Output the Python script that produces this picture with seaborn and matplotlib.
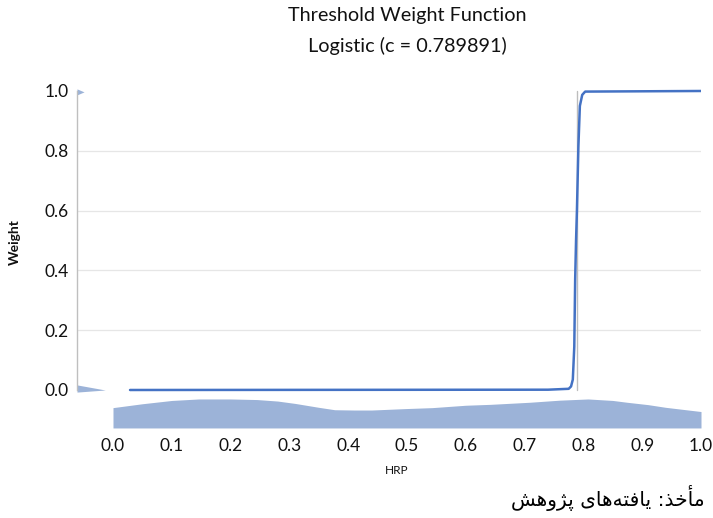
import matplotlib
matplotlib.use("Agg")
import matplotlib.pyplot as plt
import matplotlib.transforms as mtransforms
import seaborn as sns
import pandas as pd

# ---- data ----
hrp_curve = [0.029, 0.74, 0.775, 0.779, 0.782, 0.7845, 0.786, 0.7875, 0.789,
             0.7915, 0.794, 0.798, 0.803, 1.0]
weight_curve = [0.0, 0.001, 0.004, 0.012, 0.035, 0.145, 0.37, 0.5, 0.6,
                0.815, 0.95, 0.987, 0.998, 1.0]
threshold_c = 0.789891

hrp_grid = [0.0, 0.05, 0.1, 0.146, 0.2, 0.245, 0.28, 0.31, 0.35, 0.377, 0.41,
            0.44, 0.5, 0.543, 0.6, 0.642, 0.709, 0.76, 0.808, 0.85, 0.874,
            0.91, 0.94, 1.0]
hrp_density = [0.068, 0.081, 0.092, 0.097, 0.097, 0.095, 0.090, 0.082, 0.069,
               0.061, 0.060, 0.060, 0.065, 0.068, 0.076, 0.079, 0.086, 0.093,
               0.097, 0.092, 0.086, 0.078, 0.069, 0.055]

weight_low_y = [-0.007, 0.0, 0.017]
weight_low_dens = [0.0, 0.048, 0.0]
weight_high_y = [0.987, 0.997, 1.007]
weight_high_dens = [0.0, 0.012, 0.0]

x_ticks = [0.0, 0.1, 0.2, 0.3, 0.4, 0.5, 0.6, 0.7, 0.8, 0.9, 1.0]
y_ticks = [0.0, 0.2, 0.4, 0.6, 0.8, 1.0]

title = "Threshold Weight Function"
subtitle = "Logistic (c = 0.789891)"
x_label = "HRP"
y_label = "Weight"
# "مأخذ: یافته‌های پژوهش" in shaped presentation forms, visual order
source_text = ("\uFEB6\uFEEB\uFEED\uFB8B\uFB58" + " " +
               "\uFEEF\uFE8E\uFEEB\uFEEA\uFE98\uFED3\uFE8E\uFEF3" + " " +
               ":" + "\uFEAC\uFEA7\uFE84\uFEE3")

# ---- style ----
sns.set_theme(style="white")
plt.rcParams['font.family'] = ['Lato', 'DejaVu Sans']

LINE = "#4472C4"
FILL = "#9CB3D8"
GRID = "#E6E6E6"
AXIS = "#BFBFBF"
TXT = "#111111"

W, H = 713, 518
fig = plt.figure(figsize=(W / 100, H / 100), dpi=100)
x0 = -0.0612
ylo, yhi = -0.1338, 1.01
ax = fig.add_axes([77 / W, (H - 430) / H, 624 / W, 342 / H])
ax.set_xlim(x0, 1.0)
ax.set_ylim(ylo, yhi)

# gridlines
for g in [0.2, 0.4, 0.6, 0.8]:
    ax.plot([x0, 1.0], [g, g], color=GRID, lw=0.9, zorder=0)

# HRP density strip along the bottom
base = -0.127
ax.fill_between(hrp_grid, base, [base + d for d in hrp_density],
                color=FILL, lw=0, zorder=1)

# weight density along the y-axis
ax.fill_betweenx(weight_low_y, x0, [x0 + d for d in weight_low_dens],
                 color=FILL, lw=0, zorder=1)
ax.fill_betweenx(weight_high_y, x0, [x0 + d for d in weight_high_dens],
                 color=FILL, lw=0, zorder=1)

# threshold line
ax.plot([threshold_c, threshold_c], [0.0, 1.0], color="#BDBDBD", lw=1.0, zorder=2)

# weight function
df = pd.DataFrame({"HRP": hrp_curve, "Weight": weight_curve})
sns.lineplot(data=df, x="HRP", y="Weight", ax=ax, color=LINE, lw=1.8,
             sort=False, zorder=3)

# spines
for s in ["top", "right", "bottom"]:
    ax.spines[s].set_visible(False)
ax.spines["left"].set_color(AXIS)
ax.spines["left"].set_linewidth(1.0)
ax.spines["left"].set_bounds(0.0, 1.0)

ax.set_yticks(y_ticks)
ax.set_yticklabels([f"{v:.1f}" for v in y_ticks], fontsize=12.5, color=TXT)
ax.set_xticks(x_ticks)
ax.set_xticklabels([f"{v:.1f}" for v in x_ticks], fontsize=12.5, color=TXT)
ax.tick_params(axis="both", length=0)
ax.tick_params(axis="y", pad=6)
ax.tick_params(axis="x", pad=6)
ax.set_xlabel("")
ax.set_ylabel("")

# titles and labels
trans = mtransforms.blended_transform_factory(ax.transData, fig.transFigure)
ax.text(0.5, 1 - 16 / H, title, transform=trans, ha="center", va="center",
        fontsize=14.3, color=TXT)
ax.text(0.5, 1 - 46 / H, subtitle, transform=trans, ha="center", va="center",
        fontsize=14.3, color=TXT)
fig.text(397 / W, 1 - 470 / H, x_label, ha="center", va="center",
         fontsize=8.5, color=TXT)
fig.text(15 / W, 1 - 242 / H, y_label, ha="center", va="center",
         rotation=90, fontsize=10, fontweight="bold", color=TXT)
fig.text(705 / W, 1 - 498 / H, source_text, ha="right", va="center",
         fontsize=14.5, color="#000000", family=["DejaVu Sans"])

fig.savefig("out.png", dpi=100)
